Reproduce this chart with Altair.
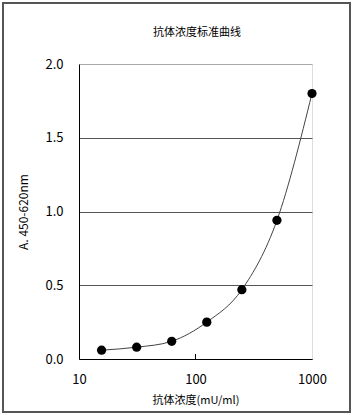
import altair as alt
import pandas as pd

conc = [15.625, 31.25, 62.5, 125, 250, 500, 1000]
absorb = [0.06, 0.08, 0.12, 0.25, 0.47, 0.94, 1.80]
x_ticks = [10, 100, 1000]
y_ticks = [0.0, 0.5, 1.0, 1.5, 2.0]
chart_title = "抗体浓度标准曲线"

df = pd.DataFrame({"conc": conc, "abs": absorb})
tdf = pd.DataFrame({"t": x_ticks[1:2]})
ttl = pd.DataFrame({"txt": [chart_title]})
FONT = "Noto Sans CJK JP"

xenc = alt.X("conc:Q", scale=alt.Scale(type="log", domain=[10, 1000]),
             axis=alt.Axis(values=x_ticks, format="d", title="抗体浓度(mU/ml)",
                           grid=False, domain=True, domainColor="#000", ticks=False,
                           labelFlush=False, labelOverlap=False,
                           labelFontSize=13, labelColor="#000", labelPadding=14,
                           labelFont=FONT, titleFont=FONT, titleFontSize=11,
                           titleFontWeight="normal", titleColor="#000", titlePadding=8))
yenc = alt.Y("abs:Q", scale=alt.Scale(domain=[0, 2]),
             axis=alt.Axis(values=y_ticks, format=".1f", title="A. 450-620nm",
                           grid=True,
                           gridColor={"condition": {"test": "datum.value >= 2", "value": "#aaa"},
                                      "value": "#555"},
                           gridWidth=1,
                           domain=True, domainColor="#000", ticks=False,
                           labelFlush=False,
                           labelFontSize=13, labelColor="#000", labelPadding=16,
                           labelFont=FONT, titleFont=FONT, titleFontSize=12,
                           titleFontWeight="normal", titleColor="#000", titlePadding=14))

line = alt.Chart(df).mark_line(color="#444", strokeWidth=1, interpolate="monotone").encode(x=xenc, y=yenc)
pts = alt.Chart(df).mark_point(filled=True, color="#000", opacity=1, size=85).encode(x="conc:Q", y="abs:Q")
tick = alt.Chart(tdf).mark_rule(color="#000", strokeWidth=1).encode(
    x="t:Q", y=alt.value(295), y2=alt.value(290))

title = alt.Chart(ttl).mark_text(font=FONT, fontSize=11, color="#000", align="center",
                                 baseline="middle", clip=False).encode(
    text="txt:N", x=alt.value(118), y=alt.value(-31))

frame = alt.Chart(df).mark_rect(fill=None, stroke="#555", strokeWidth=2, clip=False).encode(
    x=alt.value(-76), x2=alt.value(271), y=alt.value(-61), y2=alt.value(348))

chart = alt.layer(line, pts, tick, title, frame).properties(
    width=233, height=295,
    autosize=alt.AutoSizeParams(type="none"),
    padding={"left": 79, "top": 64, "right": 42, "bottom": 56},
).configure_view(stroke="#aaa", strokeWidth=1).configure(background="white")

chart.save("out.html", embed_options={"renderer": "svg", "actions": False})
